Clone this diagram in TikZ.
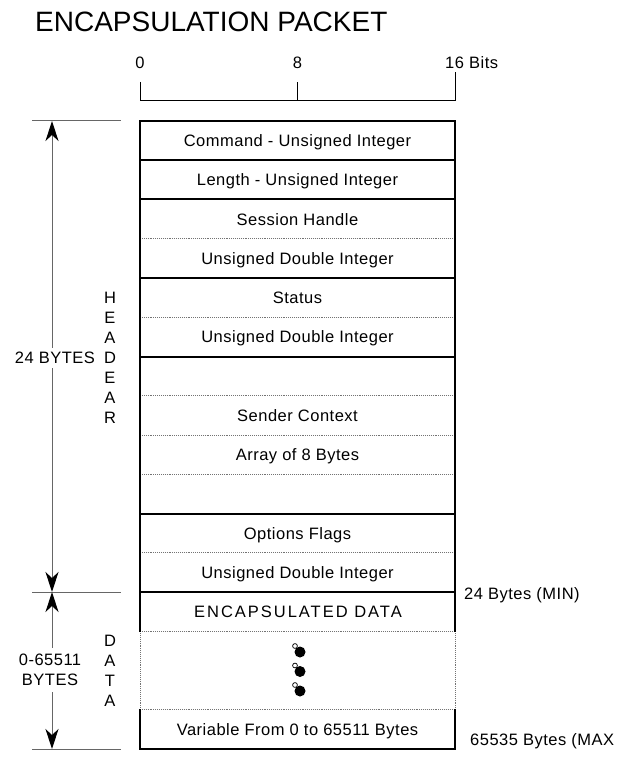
\documentclass[tikz,border=0pt]{standalone}
\usepackage{fontspec}
\setmainfont{Liberation Sans}
\newfontfamily\rowfont[LetterSpace=3]{Liberation Sans}
\newfontfamily\spacedfont[LetterSpace=12]{Liberation Sans}
\usetikzlibrary{arrows.meta}
\begin{document}
\begin{tikzpicture}[x=1pt,y=-1pt,
  thickline/.style={line width=2pt, line cap=rect},
  dotline/.style={line width=0.9pt, black!55, densely dotted},
  thinline/.style={line width=1pt, black!60},
  dimarrow/.style={line width=1pt, black!60,
    {Stealth[length=20pt,width=13pt,inset=6pt,color=black]}-{Stealth[length=20pt,width=13pt,inset=6pt,color=black]}},
  lbl/.style={font=\rowfont\fontsize{16.5}{18}\selectfont, inner sep=1pt,
    text height=11.8pt, text depth=0pt},
  gaplbl/.style={lbl, fill=white, inner sep=2pt},
]
\useasboundingbox (0,0) rectangle (618,759);

% title
\node[anchor=base west, inner sep=0pt, font=\fontsize{28}{30}\selectfont] (title) at (35,32) {ENCAPSULATION PACKET};

% bit scale
\coordinate (s0) at (140,101);
\coordinate (s8) at (297.5,101);
\coordinate (s16) at (455,101);
\coordinate (s0t) at (140,82);
\coordinate (s8t) at (297.5,82);
\coordinate (s16t) at (455,72);
\draw[line width=1pt] (s0t) -- (s0) -- (s16) -- (s16t);
\draw[line width=1pt] (s8) -- (s8t);
\node[lbl] (b0) at (140,63) {0};
\node[lbl] (b8) at (297.5,63) {8};
\node[lbl, anchor=west] (b16) at (444,63) {16 Bits};

% dotted separators
\foreach \k in {3,5,7,8,9,11,13,15}
  \draw[dotline] (140,{121+39.25*\k}) -- (455,{121+39.25*\k});
\draw[dotline] (140,631.25) -- (140,709.75);
\draw[dotline] (455,631.25) -- (455,709.75);

% thick separators
\foreach \k in {0,1,2,4,6,10,12,16}
  \draw[thickline] (140,{121+39.25*\k}) -- (455,{121+39.25*\k});
\draw[thickline] (140,121) -- (140,631.25);
\draw[thickline] (455,121) -- (455,631.25);
\draw[thickline] (140,709.75) -- (140,749);
\draw[thickline] (455,709.75) -- (455,749);

% row labels
\foreach \k/\t in {0/Command - Unsigned Integer,
                   1/Length - Unsigned Integer,
                   2/Session Handle,
                   3/Unsigned Double Integer,
                   4/Status,
                   5/Unsigned Double Integer,
                   7/Sender Context,
                   8/Array of 8 Bytes,
                   10/Options Flags,
                   11/Unsigned Double Integer,
                   15/Variable From 0 to 65511 Bytes}
  \node[lbl] (r\k) at (297.5,{121+39.25*(\k+0.5)}) {\t};
\node[lbl, font=\spacedfont\fontsize{16.5}{18}\selectfont] (r12) at (298,611.6) {ENCAPSULATED DATA};

% continuation dots
\foreach \i/\y in {1/652,2/671.5,3/691}{
  \fill (300,\y) circle (5.5);
  \draw[line width=0.7pt, fill=white] (295,{\y-6}) circle (2.4);
}

% extension lines
\coordinate (e1a) at (32,121);  \coordinate (e1b) at (121,121);
\coordinate (e2a) at (32,592);  \coordinate (e2b) at (121,592);
\coordinate (e3a) at (32,749);  \coordinate (e3b) at (121,749);
\draw[thinline] (e1a) -- (e1b);
\draw[thinline] (e2a) -- (e2b);
\draw[thinline] (e3a) -- (e3b);

% dimension arrows
\coordinate (ht) at (52,121);
\coordinate (hb) at (52,592);
\coordinate (dt) at (52,592);
\coordinate (db) at (52,749);
\draw[dimarrow] (ht) -- (hb);
\draw[dimarrow] (dt) -- (db);
\node[gaplbl, inner xsep=1pt, inner ysep=4pt] (hsize) at (55,358) {24 BYTES};
\fill[white] (30,648) rectangle (75,692);
\node[lbl] (dsize1) at (50,660) {0-65511};
\node[lbl] (dsize2) at (50,680) {BYTES};

% vertical words
\foreach \c [count=\i from 0] in {H,E,A,D,E,A,R}
  \node[lbl] (hw\i) at (110,{298+20*\i}) {\c};
\foreach \c [count=\i from 0] in {D,A,T,A}
  \node[lbl] (dw\i) at (110,{641+20*\i}) {\c};

% right notes
\node[lbl, anchor=west] (minnote) at (463,594) {24 Bytes (MIN)};
\node[lbl, anchor=west] (maxnote) at (469,740) {65535 Bytes (MAX};
\end{tikzpicture}
\end{document}
